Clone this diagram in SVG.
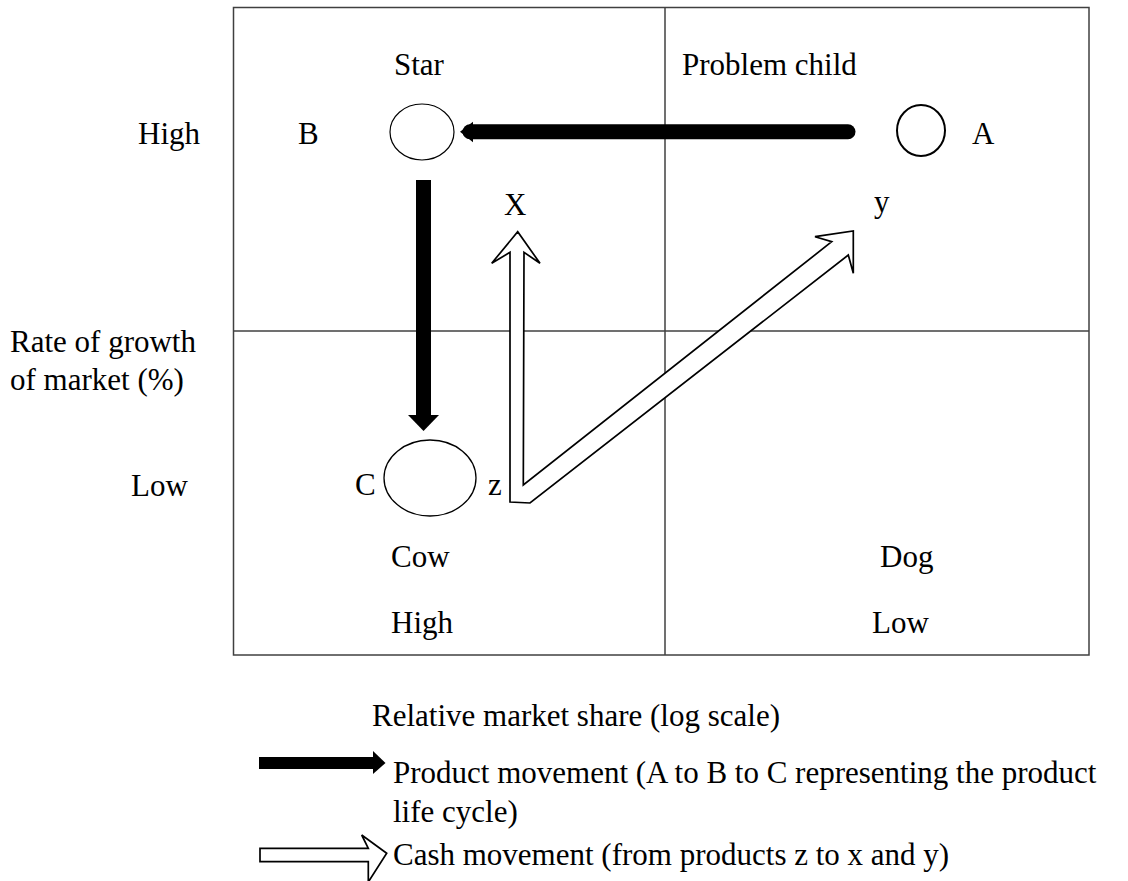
<svg xmlns="http://www.w3.org/2000/svg" width="1128" height="881" viewBox="0 0 1128 881">
<style>
text{font-family:"Liberation Serif","Times New Roman",serif;font-size:31px;fill:#000}
.grid{fill:none;stroke:#404040;stroke-width:1.5}
.node{fill:#fff;stroke:#000}
.hollow{fill:#fff;stroke:#000;stroke-width:1.7;stroke-linejoin:miter}
.solid{fill:#000;stroke:none}
</style>
<rect width="1128" height="881" fill="#fff"/>
<g id="matrix">
<rect class="grid" x="233.5" y="7.5" width="855.5" height="647.5"/>
<line class="grid" x1="665" y1="7.5" x2="665" y2="655"/>
<line class="grid" x1="233.5" y1="331" x2="1089" y2="331"/>
</g>
<g id="axis-labels">
<text x="138" y="144">High</text>
<text x="10" y="352">Rate of growth</text>
<text x="10" y="390">of market (%)</text>
<text x="131" y="496">Low</text>
<text x="391" y="633">High</text>
<text x="872" y="633">Low</text>
<text x="372" y="726">Relative market share (log scale)</text>
</g>
<g id="quadrant-labels">
<text x="394" y="75">Star</text>
<text x="682" y="75">Problem child</text>
<text x="391" y="567">Cow</text>
<text x="880" y="567">Dog</text>
</g>
<g id="node-B">
<ellipse class="node" cx="422" cy="132" rx="32" ry="28" stroke-width="1.2"/>
<text x="298" y="144">B</text>
</g>
<g id="node-A">
<ellipse class="node" cx="921" cy="130.5" rx="24" ry="25.5" stroke-width="2"/>
<text x="972" y="144">A</text>
</g>
<g id="node-C">
<ellipse class="node" cx="430" cy="478" rx="46" ry="38" stroke-width="1.3"/>
<text x="355" y="495">C</text>
</g>
<g id="node-z"><text x="488" y="495">z</text></g>
<g id="node-X"><text x="504" y="215">X</text></g>
<g id="node-y"><text x="874" y="212">y</text></g>
<g id="connectors">
<line x1="848" y1="131.7" x2="470" y2="131.7" stroke="#000" stroke-width="15" stroke-linecap="round"/>
<polygon class="solid" points="460,131.7 473,121.7 473,142.3"/>
<rect class="solid" x="416" y="180" width="15" height="236"/>
<polygon class="solid" points="408,415 439,415 423.5,431"/>
<polygon class="hollow" points="510,502 510,252.3 491.7,263.3 517.7,231.7 540,263.3 524,252.3 523.3,485 831.7,241.7 815,236.7 853.3,231 853.3,273.3 848.3,255 530,503"/>
</g>
<g id="legend">
<rect class="solid" x="259" y="757" width="116" height="12"/>
<polygon class="solid" points="373,751 385.5,763 373,774"/>
<text x="393" y="783">Product movement (A to B to C representing the product</text>
<text x="393" y="822">life cycle)</text>
<polygon class="hollow" points="260,848.3 368.3,848.3 361.7,835 386.7,853.3 368.3,882 368.3,861.7 260,861.7"/>
<text x="393" y="865">Cash movement (from products z to x and y)</text>
</g>
</svg>
